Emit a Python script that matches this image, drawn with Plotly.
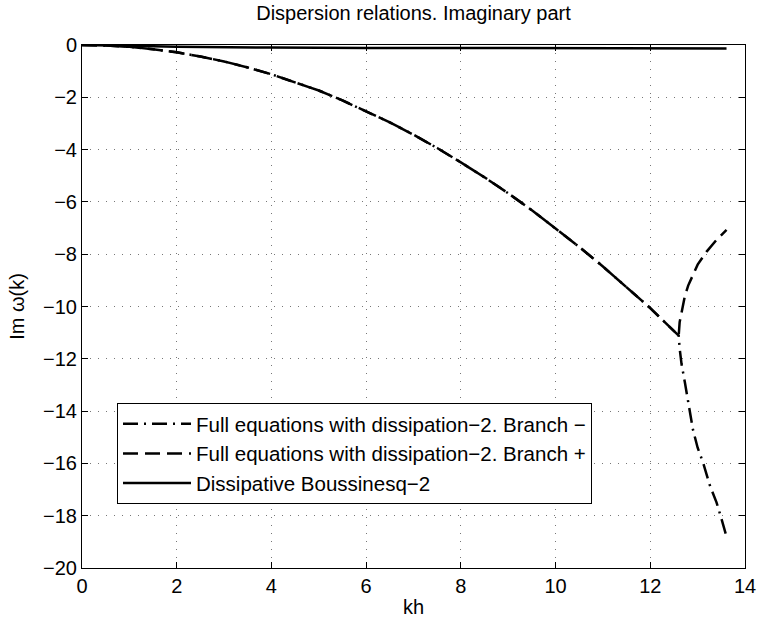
import plotly.graph_objects as go

# Wavenumber kh and imaginary part of omega, common branch (before the split)
k_common = [0, 0.5, 1, 1.5, 2, 2.5, 3, 3.5, 4, 4.5, 5, 5.5, 6, 6.5, 7, 7.5,
            8, 8.5, 9, 9.5, 10, 10.5, 11, 11.5, 12, 12.3, 12.6]
im_common = [0, -0.02, -0.07, -0.16, -0.28, -0.44, -0.63, -0.86, -1.12, -1.42,
             -1.74, -2.12, -2.53, -2.96, -3.43, -3.94, -4.49, -5.06, -5.67,
             -6.32, -7.02, -7.72, -8.47, -9.26, -10.06, -10.59, -11.11]

# Branch - after the split
k_minus_tail = [12.62, 12.66, 12.73, 12.8, 12.9, 13.0, 13.12, 13.25, 13.4, 13.5, 13.61]
im_minus_tail = [-11.6, -12.2, -12.9, -13.7, -14.7, -15.4, -16.0, -16.8, -17.5, -18.1, -18.8]

# Branch + after the split
k_plus_tail = [12.62, 12.66, 12.73, 12.8, 12.91, 13.0, 13.19, 13.4, 13.61]
im_plus_tail = [-10.6, -10.2, -9.6, -9.2, -8.73, -8.4, -7.9, -7.45, -7.07]

# Dissipative Boussinesq-2 model
k_bous = [0, 0.5, 1, 1.5, 2, 3, 4, 6, 8, 10, 12, 13.61]
im_bous = [0, -0.01, -0.03, -0.05, -0.07, -0.09, -0.10, -0.11, -0.12, -0.12, -0.13, -0.13]

x_ticks = [0, 2, 4, 6, 8, 10, 12, 14]
y_ticks = [-20, -18, -16, -14, -12, -10, -8, -6, -4, -2, 0]

FONT = "Liberation Sans, Arial, Helvetica, sans-serif"
FS = 20

fig = go.Figure()
fig.add_trace(go.Scatter(
    x=k_common + k_minus_tail, y=im_common + im_minus_tail, mode="lines",
    name="Full equations with dissipation\u22122. Branch \u2212",
    line=dict(color="black", width=2.5, dash="15px,6px,2px,6px"),
))
fig.add_trace(go.Scatter(
    x=k_common + k_plus_tail, y=im_common + im_plus_tail, mode="lines",
    name="Full equations with dissipation\u22122. Branch +",
    line=dict(color="black", width=2.5, dash="15px,7px"),
))
fig.add_trace(go.Scatter(
    x=k_bous, y=im_bous, mode="lines",
    name="Dissipative Boussinesq\u22122",
    line=dict(color="black", width=2.5),
))

axis_common = dict(
    showline=True, linecolor="black", linewidth=1, mirror="ticks",
    ticks="inside", ticklen=6, tickcolor="black", tickwidth=1,
    showgrid=True, gridcolor="#777777", gridwidth=1, griddash="1px,7px",
    zeroline=False, automargin=False,
    tickfont=dict(family=FONT, size=FS, color="black"),
)

fig.update_xaxes(range=[0, 14], tickvals=x_ticks,
                 title=dict(text="kh", font=dict(family=FONT, size=FS, color="black"), standoff=3),
                 **axis_common)
fig.update_yaxes(range=[-20, 0], tickvals=y_ticks,
                 title=dict(text="Im \u03c9(k)", font=dict(family=FONT, size=FS, color="black"), standoff=13),
                 **axis_common)

fig.update_layout(
    width=760, height=621,
    margin=dict(l=82, r=15, t=45, b=53),
    paper_bgcolor="white", plot_bgcolor="white",
    font=dict(family=FONT, size=FS, color="black"),
    title=dict(text="Dispersion relations. Imaginary part", x=0.5, xref="paper",
               xanchor="center", y=(621 - 13) / 621, yref="container", yanchor="middle",
               font=dict(family=FONT, size=FS, color="black")),
    legend=dict(x=0.0528, y=0.3155, xanchor="left", yanchor="top",
                bgcolor="white", bordercolor="black", borderwidth=1,
                font=dict(family=FONT, size=20.5, color="black"), itemwidth=68),
    showlegend=True,
)

fig.write_html("out.html")
